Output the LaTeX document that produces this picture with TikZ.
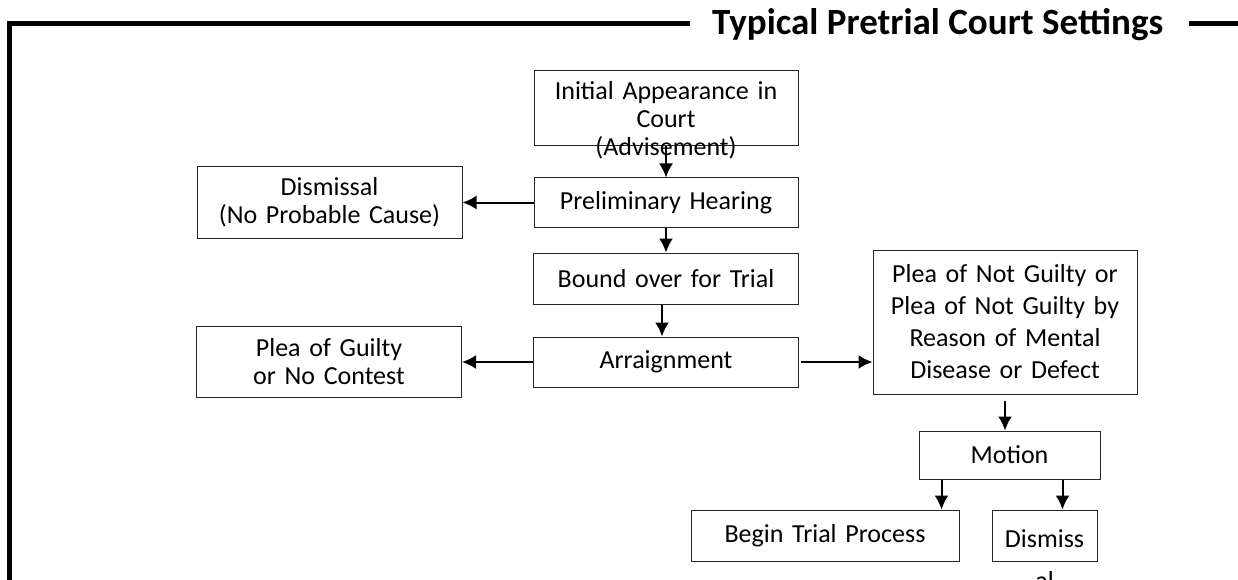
\documentclass[tikz,border=0pt]{standalone}
\usepackage{fontspec}
\setmainfont{Carlito}
\usetikzlibrary{positioning,calc,arrows.meta}
\tikzset{>={Latex[length=14pt,width=14pt]}}
\tikzset{stage/.style={draw=black!85,line width=1pt,align=center,inner sep=0pt,font=\fontsize{26}{28}\selectfont},
  flow/.style={->,line width=2pt}}

\begin{document}
\begin{tikzpicture}[x=1pt,y=1pt]
  \useasboundingbox (0,0) rectangle (1238,-580);
  % frame and title
  \draw [line width=5pt] (690,-23.5) -- (9.5,-23.5) -- (9.5,-585);
  \draw [line width=5pt] (1189,-23.5) -- (1240,-23.5);
  \node [anchor=base west,inner sep=0pt,font=\fontsize{37}{44}\selectfont\bfseries] (title) at (712,-35) {Typical Pretrial Court Settings};

  \node [stage,text width=264pt,text height=29pt,text depth=46pt] (appear) at (666,-108.5) {Initial Appearance in\\Court\\(Advisement)};
  \node [stage,text width=264pt,minimum height=49pt,below=31pt of appear] (prelim) {Preliminary Hearing};
  \node [stage,text width=265pt,minimum height=51pt,below=25pt of prelim] (bound) {Bound over for Trial};
  \node [stage,text width=265pt,minimum height=50pt,below=32pt of bound] (arraign) {Arraignment};
  \node [stage,text width=265pt,minimum height=71pt,left=71pt of prelim] (nocause) {Dismissal\\(No Probable Cause)};
  \node [stage,text width=265pt,minimum height=71pt,left=71pt of arraign] (guilty) {Plea of Guilty\\or No Contest};
  \node [stage,text width=264pt,minimum height=144pt,font=\fontsize{26}{32}\selectfont] (notguilty) at (1005,-322) {Plea of Not Guilty or\\Plea of Not Guilty by\\Reason of Mental\\Disease or Defect};
  \node [stage,text width=181pt,minimum height=48pt] (motion) at (1009.5,-455) {Motion};
  \node [stage,text width=268pt,minimum height=51pt] (trial) at (825,-535.5) {Begin Trial Process};
  \node [stage,text width=105pt,text height=37pt,text depth=14pt,font=\fontsize{26}{42}\selectfont] (dismiss) at (1044.5,-535.5) {Dismiss\\al};

  \draw [flow] (appear.south) -- (appear.south |- prelim.north);
  \draw [flow] (prelim) -- (nocause);
  \draw [flow] (prelim.south) -- (prelim.south |- bound.north);
  \draw [flow] ([xshift=-4pt]bound.south) -- ([xshift=-4pt]bound.south |- arraign.north);
  \draw [flow] (arraign) -- (guilty);
  \draw [flow] ([xshift=2pt]arraign.east) -- (arraign.east -| notguilty.west);
  \draw [flow] ([yshift=-6pt]notguilty.south) -- (notguilty.south |- motion.north);
  \draw [flow] ([xshift=23pt]motion.south west) -- ([xshift=23pt]motion.south west |- trial.north);
  \draw [flow] ([xshift=-38pt]motion.south east) -- ([xshift=-38pt]motion.south east |- dismiss.north);
\end{tikzpicture}
\end{document}
